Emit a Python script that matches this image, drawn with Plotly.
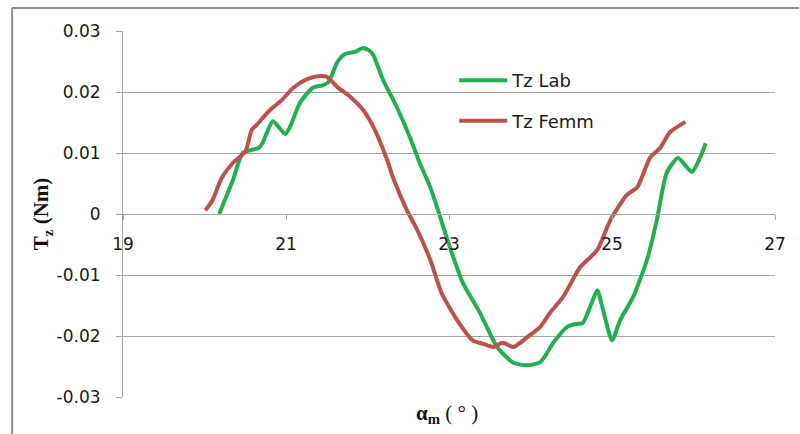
import plotly.graph_objects as go

# ---- data ----
lab_x = [20.18, 20.35, 20.47, 20.66, 20.71, 20.84, 20.99, 21.05, 21.17, 21.33, 21.45, 21.52,
         21.63, 21.72, 21.85, 21.94, 22.01, 22.07, 22.19, 22.36, 22.52, 22.64, 22.77, 22.93,
         23.01, 23.17, 23.38, 23.59, 23.79, 23.96, 24.12, 24.28, 24.45, 24.57, 24.64, 24.75,
         24.82, 24.89, 25.00, 25.10, 25.26, 25.43, 25.55, 25.67, 25.81, 25.98, 26.08, 26.15]
lab_y = [0.0000, 0.0056, 0.0100, 0.0108, 0.0116, 0.0152, 0.0131, 0.0143, 0.0182, 0.0207, 0.0211, 0.0216,
         0.0249, 0.0262, 0.0266, 0.0272, 0.0269, 0.0261, 0.0220, 0.0175, 0.0126, 0.0084, 0.0044, -0.0021,
         -0.0054, -0.0113, -0.0162, -0.0218, -0.0244, -0.0248, -0.0243, -0.0211, -0.0185, -0.0180, -0.0179, -0.0146,
         -0.0125, -0.0157, -0.0207, -0.0174, -0.0136, -0.0075, -0.0010, 0.0067, 0.0092, 0.0069, 0.0092, 0.0116]

femm_x = [20.01, 20.10, 20.21, 20.35, 20.50, 20.58, 20.64, 20.80, 20.95, 21.09, 21.26, 21.39,
          21.50, 21.63, 21.79, 21.95, 22.09, 22.24, 22.31, 22.48, 22.61, 22.77, 22.91, 23.10,
          23.29, 23.42, 23.54, 23.66, 23.79, 23.96, 24.12, 24.24, 24.40, 24.61, 24.82, 24.98,
          25.18, 25.31, 25.47, 25.59, 25.71, 25.90]
femm_y = [0.0006, 0.0023, 0.0059, 0.0084, 0.0102, 0.0138, 0.0146, 0.0170, 0.0187, 0.0207, 0.0221, 0.0226,
          0.0225, 0.0208, 0.0192, 0.0170, 0.0138, 0.0089, 0.0061, 0.0007, -0.0026, -0.0075, -0.0130, -0.0174,
          -0.0207, -0.0213, -0.0218, -0.0211, -0.0218, -0.0202, -0.0185, -0.0162, -0.0136, -0.0087, -0.0059, -0.0010,
          0.0031, 0.0044, 0.0093, 0.0108, 0.0134, 0.0151]

x_ticks = [19, 21, 23, 25, 27]
y_ticks = [0.03, 0.02, 0.01, 0, -0.01, -0.02, -0.03]
y_tick_text = ["0.03", "0.02", "0.01", "0", "-0.01", "-0.02", "-0.03"]

GREEN = "#22B04F"
RED = "#BD504B"
GRID = "#A6A6A6"
TICKFONT = dict(family="DejaVu Sans", size=17, color="#1a1a1a")

fig = go.Figure()
fig.add_trace(go.Scatter(x=lab_x, y=lab_y, mode="lines", name="Tz Lab", legendgroup="a",
                         line=dict(color=GREEN, width=4, shape="spline", smoothing=0.6)))
fig.add_trace(go.Scatter(x=femm_x, y=femm_y, mode="lines", name="Tz Femm", legendgroup="b",
                         line=dict(color=RED, width=4, shape="spline", smoothing=0.6)))

fig.update_layout(
    width=800, height=434,
    margin=dict(l=123, r=25, t=31, b=37),
    paper_bgcolor="white", plot_bgcolor="white",
    showlegend=True,
    legend=dict(x=0.508, y=0.915, xanchor="left", yanchor="top",
                font=dict(family="DejaVu Sans", size=18, color="#1a1a1a"),
                bgcolor="rgba(255,255,255,0)", tracegroupgap=14, itemwidth=48),
    xaxis=dict(range=[19, 27], tickvals=x_ticks, ticktext=[str(v) for v in x_ticks],
               anchor="free", position=0.5, showline=True, linecolor=GRID, linewidth=1,
               ticks="outside", ticklen=5, tickcolor=GRID, showgrid=False, zeroline=False,
               tickfont=TICKFONT, ticklabelstandoff=10),
    yaxis=dict(range=[-0.03, 0.03], tickvals=y_ticks, ticktext=y_tick_text,
               showline=True, linecolor=GRID, linewidth=1, ticks="outside", ticklen=6,
               tickcolor=GRID, showgrid=True, gridcolor=GRID, gridwidth=1, zeroline=False,
               tickfont=TICKFONT, ticklabelstandoff=12),
)

fig.add_annotation(text="<b>T<sub>z</sub> (Nm)</b>", xref="paper", yref="paper",
                   x=-0.124, y=0.5, xanchor="center", yanchor="middle",
                   textangle=-90, showarrow=False,
                   font=dict(family="Liberation Serif", size=21, color="#111111"))
fig.add_annotation(text="<b>α<sub>m</sub></b> ( ° )", xref="paper", yref="paper",
                   x=0.497, y=-0.046, xanchor="center", yanchor="middle", showarrow=False,
                   font=dict(family="Liberation Serif", size=21, color="#111111"))

# outer chart border (top and left edges visible in the reference)
fig.add_shape(type="line", xref="paper", yref="paper", x0=-0.170, x1=-0.170,
              ysizemode="pixel", yanchor=1, y0=-420, y1=23,
              line=dict(color="#8C8C8C", width=2), layer="above")
fig.add_shape(type="line", xref="paper", yref="paper", x0=-0.170, x1=1.037,
              ysizemode="pixel", yanchor=1, y0=23, y1=23,
              line=dict(color="#8C8C8C", width=2), layer="above")

fig.write_html("out.html")
